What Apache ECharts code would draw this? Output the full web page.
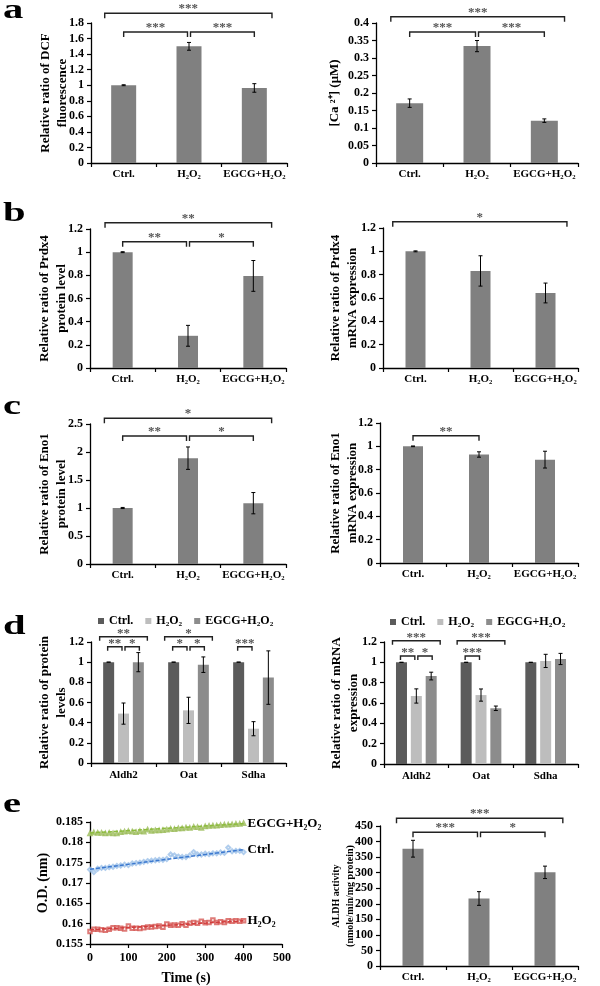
<!DOCTYPE html>
<html>
<head>
<meta charset="utf-8">
<script src="https://cdn.jsdelivr.net/npm/echarts@6/dist/echarts.min.js"></script>
<style>
html,body{margin:0;padding:0;background:#fff;}
#chart{width:600px;height:986px;}
</style>
</head>
<body>
<div id="chart"></div>
<script>
// ---------------- DATA ----------------
const treatments = ['Ctrl.', 'H₂O₂', 'EGCG+H₂O₂'];
const genes = ['Aldh2', 'Oat', 'Sdha'];

// a
const dcfAxis = [0, 1.8, 0.2];
const dcfMean = [1.0, 1.50, 0.965];
const dcfErr = [0.006, 0.05, 0.055];
const dcfSig = [['outer', '***'], ['left', '***'], ['right', '***']];

const caAxis = [0, 0.4, 0.05];
const caMean = [0.171, 0.334, 0.121];
const caErr = [0.012, 0.016, 0.005];
const caSig = [['outer', '***'], ['left', '***'], ['right', '***']];

// b
const prdx4ProtAxis = [0, 1.2, 0.2];
const prdx4ProtMean = [1.0, 0.278, 0.795];
const prdx4ProtErr = [0.004, 0.09, 0.133];
const prdx4ProtSig = [['outer', '**'], ['left', '**'], ['right', '*']];

const prdx4MrnaAxis = [0, 1.2, 0.2];
const prdx4MrnaMean = [1.0, 0.832, 0.643];
const prdx4MrnaErr = [0.004, 0.13, 0.085];
const prdx4MrnaSig = [['outer', '*']];

// c
const eno1ProtAxis = [0, 2.5, 0.5];
const eno1ProtMean = [1.0, 1.89, 1.086];
const eno1ProtErr = [0.01, 0.2, 0.19];
const eno1ProtSig = [['outer', '*'], ['left', '**'], ['right', '*']];

const eno1MrnaAxis = [0, 1.2, 0.2];
const eno1MrnaMean = [1.0, 0.93, 0.886];
const eno1MrnaErr = [0.003, 0.023, 0.072];
const eno1MrnaSig = [['pair01', '**']];

// d (per treatment, across genes)
const dAxis = [0, 1.2, 0.2];
const protCtrl = [1.0, 1.0, 1.0];
const protCtrlErr = [0, 0, 0];
const protH2O2 = [0.49, 0.522, 0.34];
const protH2O2Err = [0.105, 0.13, 0.07];
const protEgcg = [1.0, 0.975, 0.847];
const protEgcgErr = [0.095, 0.077, 0.265];
const protSig = [[0, 'outer', '**'], [0, 'left', '**'], [0, 'right', '*'],
                 [1, 'outer', '*'], [1, 'left', '*'], [1, 'right', '*'],
                 [2, 'left', '***']];

const mrnaCtrl = [1.0, 1.0, 1.0];
const mrnaCtrlErr = [0, 0, 0];
const mrnaH2O2 = [0.669, 0.678, 1.014];
const mrnaH2O2Err = [0.07, 0.06, 0.065];
const mrnaEgcg = [0.865, 0.548, 1.033];
const mrnaEgcgErr = [0.038, 0.022, 0.055];
const mrnaSig = [[0, 'outer', '***'], [0, 'left', '**'], [0, 'right', '*'],
                 [1, 'outer', '***'], [1, 'left', '***']];

// e (kinetics)
const odAxis = [0.155, 0.185, 0.005];
const timeAxis = [0, 500, 100];
const timeSec = [0,10,20,30,40,50,60,70,80,90,100,110,120,130,140,150,160,170,180,190,200,
                 210,220,230,240,250,260,270,280,290,300,310,320,330,340,350,360,370,380,390,400];
const odEgcg = [0.1822,0.1824,0.1823,0.1823,0.1822,0.1823,0.1822,0.1822,0.1825,0.1826,0.1827,
                0.1826,0.1825,0.1827,0.1826,0.1831,0.1828,0.1829,0.1829,0.1830,0.1831,
                0.1833,0.1832,0.1834,0.1834,0.1836,0.1835,0.1838,0.1837,0.1835,0.1839,
                0.1840,0.1841,0.1841,0.1842,0.1843,0.1843,0.1844,0.1845,0.1845,0.1847];
const odCtrl = [0.1733,0.1727,0.1735,0.1737,0.1737,0.1739,0.1740,0.1742,0.1743,0.1745,0.1744,
                0.1748,0.1749,0.1750,0.1752,0.1754,0.1755,0.1756,0.1757,0.1757,0.1759,
                0.1770,0.1768,0.1765,0.1764,0.1764,0.1768,0.1776,0.1770,0.1770,0.1772,
                0.1771,0.1773,0.1773,0.1775,0.1774,0.1787,0.1778,0.1779,0.1779,0.1776];
const odH2O2 = [0.1581,0.1586,0.1586,0.1585,0.1584,0.1586,0.1590,0.1590,0.1589,0.1587,0.1594,
                0.1589,0.1589,0.1588,0.1590,0.1592,0.1592,0.1593,0.1594,0.1591,0.1599,
                0.1596,0.1597,0.1596,0.1600,0.1596,0.1601,0.1603,0.1601,0.1606,0.1602,
                0.1603,0.1609,0.1603,0.1605,0.1603,0.1607,0.1606,0.1607,0.1606,0.1607];
const trendEgcg = [[0, 0.1823], [400, 0.1846]];
const trendCtrl = [[0, 0.1734], [400, 0.1782]];
const trendH2O2 = [[0, 0.1585], [400, 0.1607]];
const eLineLabels = ['EGCG+H₂O₂', 'Ctrl.', 'H₂O₂'];

const aldhAxis = [0, 450, 50];
const aldhMean = [377, 217, 301];
const aldhErr = [27, 22, 20];
const aldhSig = [['outer', '***'], ['left', '***'], ['right', '*']];

const panelLetters = ['a', 'b', 'c', 'd', 'e'];

// ---------------- LAYOUT / STYLE ----------------
const FONT = '"Liberation Serif", "Times New Roman", serif';
const grids = [
  {left: 91,  top: 23,  width: 196, height: 140},  // 0 a-left
  {left: 376, top: 23,  width: 202, height: 140},  // 1 a-right
  {left: 90,  top: 229, width: 196, height: 139},  // 2 b-left
  {left: 383, top: 228, width: 195, height: 140},  // 3 b-right
  {left: 90,  top: 424, width: 196, height: 140},  // 4 c-left
  {left: 380, top: 423, width: 198, height: 140},  // 5 c-right
  {left: 91,  top: 642, width: 195, height: 121},  // 6 d-left
  {left: 384, top: 642, width: 194, height: 122},  // 7 d-right
  {left: 90,  top: 822, width: 192, height: 122},  // 8 e-left
  {left: 380, top: 826, width: 198, height: 140}   // 9 e-right
];
const letterPos = [[3, 25], [3, 228], [3, 421], [3, 641], [3, 819]];

const singlePanels = [
  {g: 0, mean: dcfMean, err: dcfErr, axis: dcfAxis, name: 'Relative ratio of DCF\nfluorescence', gap: 20, bw: 25, sig: dcfSig, lv: [13.3, 32], of: [-0.29, 0.27]},
  {g: 1, mean: caMean, err: caErr, axis: caAxis, name: '[Ca ²⁺] (μM)', gap: 33, bw: 27, sig: caSig, lv: [16.7, 32], of: [-0.28, 0.30]},
  {g: 2, mean: prdx4ProtMean, err: prdx4ProtErr, axis: prdx4ProtAxis, name: 'Relative ratio of Prdx4\nprotein level', gap: 19.5, bw: 20, sig: prdx4ProtSig, lv: [222.7, 241.7], of: [-0.27, 0.28]},
  {g: 3, mean: prdx4MrnaMean, err: prdx4MrnaErr, axis: prdx4MrnaAxis, name: 'Relative ratio of Prdx4\nmRNA expression', gap: 21.5, bw: 20, sig: prdx4MrnaSig, lv: [221.7, 0], of: [-0.35, 0.33]},
  {g: 4, mean: eno1ProtMean, err: eno1ProtErr, axis: eno1ProtAxis, name: 'Relative ratio of Eno1\nprotein level', gap: 19.5, bw: 20, sig: eno1ProtSig, lv: [418.3, 436], of: [-0.28, 0.28]},
  {g: 5, mean: eno1MrnaMean, err: eno1MrnaErr, axis: eno1MrnaAxis, name: 'Relative ratio of Eno1\nmRNA expression', gap: 18.5, bw: 20, sig: eno1MrnaSig, lv: [0, 435.7], of: [0, 0]},
  {g: 9, mean: aldhMean, err: aldhErr, axis: aldhAxis, name: 'ALDH activity\n(nmole/min/mg protein)', gap: 23, bw: 21, sig: aldhSig, lv: [818.3, 832.3], of: [-0.25, 0.27], fs: 10, lh: 14}
];
const groupPanels = [
  {g: 6, series: [[protCtrl, protCtrlErr], [protH2O2, protH2O2Err], [protEgcg, protEgcgErr]], axis: dAxis, name: 'Relative ratio of protein\nlevels', gap: 20.5, sig: protSig, lv: [636.7, 646.7]},
  {g: 7, series: [[mrnaCtrl, mrnaCtrlErr], [mrnaH2O2, mrnaH2O2Err], [mrnaEgcg, mrnaEgcgErr]], axis: dAxis, name: 'Relative ratio of mRNA\nexpression', gap: 21.5, sig: mrnaSig, lv: [640.7, 656]}
];
const groupColors = ['#5b5b5b', '#bdbdbd', '#8c8c8c'];
const barColor = '#808080';
const GBW = 11, GGAP = 0.35, GSTEP = GBW * (1 + GGAP);

// ---------------- BUILD ----------------
const chart = echarts.init(document.getElementById('chart'));

function yAx(gi, axis, name, gap, fs, lh) {
  return {
    type: 'value', gridIndex: gi, min: axis[0], max: axis[1], interval: axis[2],
    axisLine: {show: true, lineStyle: {color: '#000', width: 1.3}},
    axisTick: {show: true, length: 4, lineStyle: {color: '#000', width: 1.2}},
    splitLine: {show: false},
    axisLabel: {color: '#000', fontFamily: FONT, fontWeight: 'bold', fontSize: 12, margin: 7},
    name: name, nameLocation: 'middle', nameRotate: 90, nameGap: gap, nameMoveOverlap: false,
    nameTextStyle: {color: '#000', fontFamily: FONT, fontWeight: 'bold', fontSize: fs || 13, lineHeight: lh || 17}
  };
}
function xCat(gi, data, margin) {
  return {
    type: 'category', gridIndex: gi, data: data,
    axisLine: {show: true, lineStyle: {color: '#000', width: 1.3}},
    axisTick: {show: true, length: 4, lineStyle: {color: '#000', width: 1.2}},
    axisLabel: {color: '#000', fontFamily: FONT, fontWeight: 'bold', fontSize: 11, margin: margin || 6, interval: 0}
  };
}
function errBars(gi, means, errs, offset) {
  return {
    type: 'custom', xAxisIndex: gi, yAxisIndex: gi, z: 10, silent: true,
    data: means.map((m, i) => [i, m - errs[i], m + errs[i]]),
    encode: {x: 0, y: [1, 2]},
    renderItem: function (p, api) {
      const lo = api.coord([api.value(0), api.value(1)]);
      const hi = api.coord([api.value(0), api.value(2)]);
      const x = lo[0] + offset, c = 2;
      const st = {stroke: '#000', lineWidth: 1};
      return {type: 'group', children: [
        {type: 'line', shape: {x1: x, y1: lo[1], x2: x, y2: hi[1]}, style: st},
        {type: 'line', shape: {x1: x - c, y1: hi[1], x2: x + c, y2: hi[1]}, style: st},
        {type: 'line', shape: {x1: x - c, y1: lo[1], x2: x + c, y2: lo[1]}, style: st}
      ]};
    }
  };
}

const xAxes = [], yAxes = [], series = [];
for (let gi = 0; gi < grids.length; gi++) { xAxes.push(null); yAxes.push(null); }

singlePanels.forEach(p => {
  xAxes[p.g] = xCat(p.g, treatments, 6);
  yAxes[p.g] = yAx(p.g, p.axis, p.name, p.gap, p.fs, p.lh);
  series.push({type: 'bar', name: 'bar' + p.g, xAxisIndex: p.g, yAxisIndex: p.g, data: p.mean, barWidth: p.bw, itemStyle: {color: barColor}, silent: true});
  series.push(errBars(p.g, p.mean, p.err, 0));
});
groupPanels.forEach(p => {
  xAxes[p.g] = xCat(p.g, genes, 7);
  yAxes[p.g] = yAx(p.g, p.axis, p.name, p.gap);
  p.series.forEach((s, k) => {
    series.push({type: 'bar', name: treatments[k], xAxisIndex: p.g, yAxisIndex: p.g, data: s[0], barWidth: GBW, barGap: (GGAP * 100) + '%', itemStyle: {color: groupColors[k]}, silent: true});
  });
  p.series.forEach((s, k) => {
    series.push(errBars(p.g, s[0], s[1], (k - 1) * GSTEP));
  });
});

// e-left line chart
xAxes[8] = {
  type: 'value', gridIndex: 8, min: timeAxis[0], max: timeAxis[1], interval: timeAxis[2],
  axisLine: {show: true, lineStyle: {color: '#000', width: 1.3}},
  axisTick: {show: true, length: 4, lineStyle: {color: '#000', width: 1.2}},
  splitLine: {show: false},
  axisLabel: {color: '#000', fontFamily: FONT, fontWeight: 'bold', fontSize: 12, margin: 8},
  name: 'Time (s)', nameLocation: 'middle', nameGap: 27, nameMoveOverlap: false,
  nameTextStyle: {color: '#000', fontFamily: FONT, fontWeight: 'bold', fontSize: 14}
};
yAxes[8] = yAx(8, odAxis, 'O.D. (nm)', 38.5, 14, 17);

const eSets = [
  {pts: odEgcg, trend: trendEgcg, sym: 'emptyTriangle', size: 3.5, pc: '#9bbb59', lc: '#8cbb3c'},
  {pts: odCtrl, trend: trendCtrl, sym: 'emptyDiamond', size: 4, pc: '#9cc0e8', lc: '#3b78cf'},
  {pts: odH2O2, trend: trendH2O2, sym: 'emptyRect', size: 3.5, pc: '#d65a56', lc: '#d23c3c'}
];
eSets.forEach((s, i) => {
  series.push({type: 'scatter', name: 'pts' + i, xAxisIndex: 8, yAxisIndex: 8, silent: true,
    data: timeSec.map((t, j) => [t, s.pts[j]]), symbol: s.sym, symbolSize: s.size,
    itemStyle: {color: s.pc, borderWidth: 0.7}});
  series.push({type: 'line', name: 'trend' + i, xAxisIndex: 8, yAxisIndex: 8, silent: true,
    data: s.trend, symbol: 'none', showSymbol: false, z: 4,
    lineStyle: {type: [4, 2], width: 1.5, color: s.lc},
    endLabel: {show: true, formatter: () => eLineLabels[i], color: '#000', fontFamily: FONT, fontWeight: 'bold', fontSize: 13, distance: 4}});
});

chart.setOption({
  animation: false,
  backgroundColor: '#fff',
  grid: grids,
  xAxis: xAxes,
  yAxis: yAxes,
  legend: [
    {left: 93, top: 610, data: treatments, icon: 'rect', itemWidth: 6, itemHeight: 6, itemGap: 12, selectedMode: false,
     textStyle: {color: '#000', fontFamily: FONT, fontWeight: 'bold', fontSize: 12}},
    {left: 385, top: 611, data: treatments, icon: 'rect', itemWidth: 6, itemHeight: 6, itemGap: 12, selectedMode: false,
     textStyle: {color: '#000', fontFamily: FONT, fontWeight: 'bold', fontSize: 12}}
  ],
  series: series
});

// ---------------- ANNOTATIONS (significance brackets, panel letters) ----------------
function px(gi, idx) { return chart.convertToPixel({xAxisIndex: gi}, idx); }
const graphics = [];
function bracket(x1, x2, y, drop, label, starDy) {
  graphics.push({type: 'polyline', silent: true, z: 20,
    shape: {points: [[x1, y + drop], [x1, y], [x2, y], [x2, y + drop]]},
    style: {stroke: '#222', lineWidth: 1.4, fill: null}});
  graphics.push({type: 'text', silent: true, z: 20, x: (x1 + x2) / 2, y: y - starDy,
    style: {text: label, fill: '#555', fontFamily: FONT, fontWeight: 'bold', fontSize: 13, align: 'center', verticalAlign: 'middle'}});
}
singlePanels.forEach(p => {
  const w = px(p.g, 1) - px(p.g, 0);
  p.sig.forEach(([type, label]) => {
    let x1, x2, y;
    if (type === 'outer') { x1 = px(p.g, 0) + p.of[0] * w; x2 = px(p.g, 2) + p.of[1] * w; y = p.lv[0]; }
    else if (type === 'left') { x1 = px(p.g, 0); x2 = px(p.g, 1) - 1.5; y = p.lv[1]; }
    else if (type === 'right') { x1 = px(p.g, 1) + 1.5; x2 = px(p.g, 2); y = p.lv[1]; }
    else { x1 = px(p.g, 0); x2 = px(p.g, 1); y = p.lv[1]; }
    bracket(x1, x2, y, 5, label, 4.5);
  });
});
groupPanels.forEach(p => {
  p.sig.forEach(([gIdx, type, label]) => {
    const c = px(p.g, gIdx);
    const bx = k => c + (k - 1) * GSTEP;
    let x1, x2, y;
    if (type === 'outer') { x1 = bx(0) - 9; x2 = bx(2) + 9; y = p.lv[0]; }
    else if (type === 'left') { x1 = bx(0) - 1; x2 = bx(1) - 1.5; y = p.lv[1]; }
    else { x1 = bx(1) + 1.5; x2 = bx(2) + 1; y = p.lv[1]; }
    bracket(x1, x2, y, 4, label, 3);
  });
});
panelLetters.forEach((L, i) => {
  graphics.push({type: 'text', silent: true, x: letterPos[i][0], y: letterPos[i][1], scaleX: 1.45, scaleY: 1,
    style: {text: L, fill: '#000', fontFamily: FONT, fontWeight: 'bold', fontSize: 28, align: 'left', verticalAlign: 'bottom'}});
});
chart.setOption({graphic: graphics});
</script>
</body>
</html>
